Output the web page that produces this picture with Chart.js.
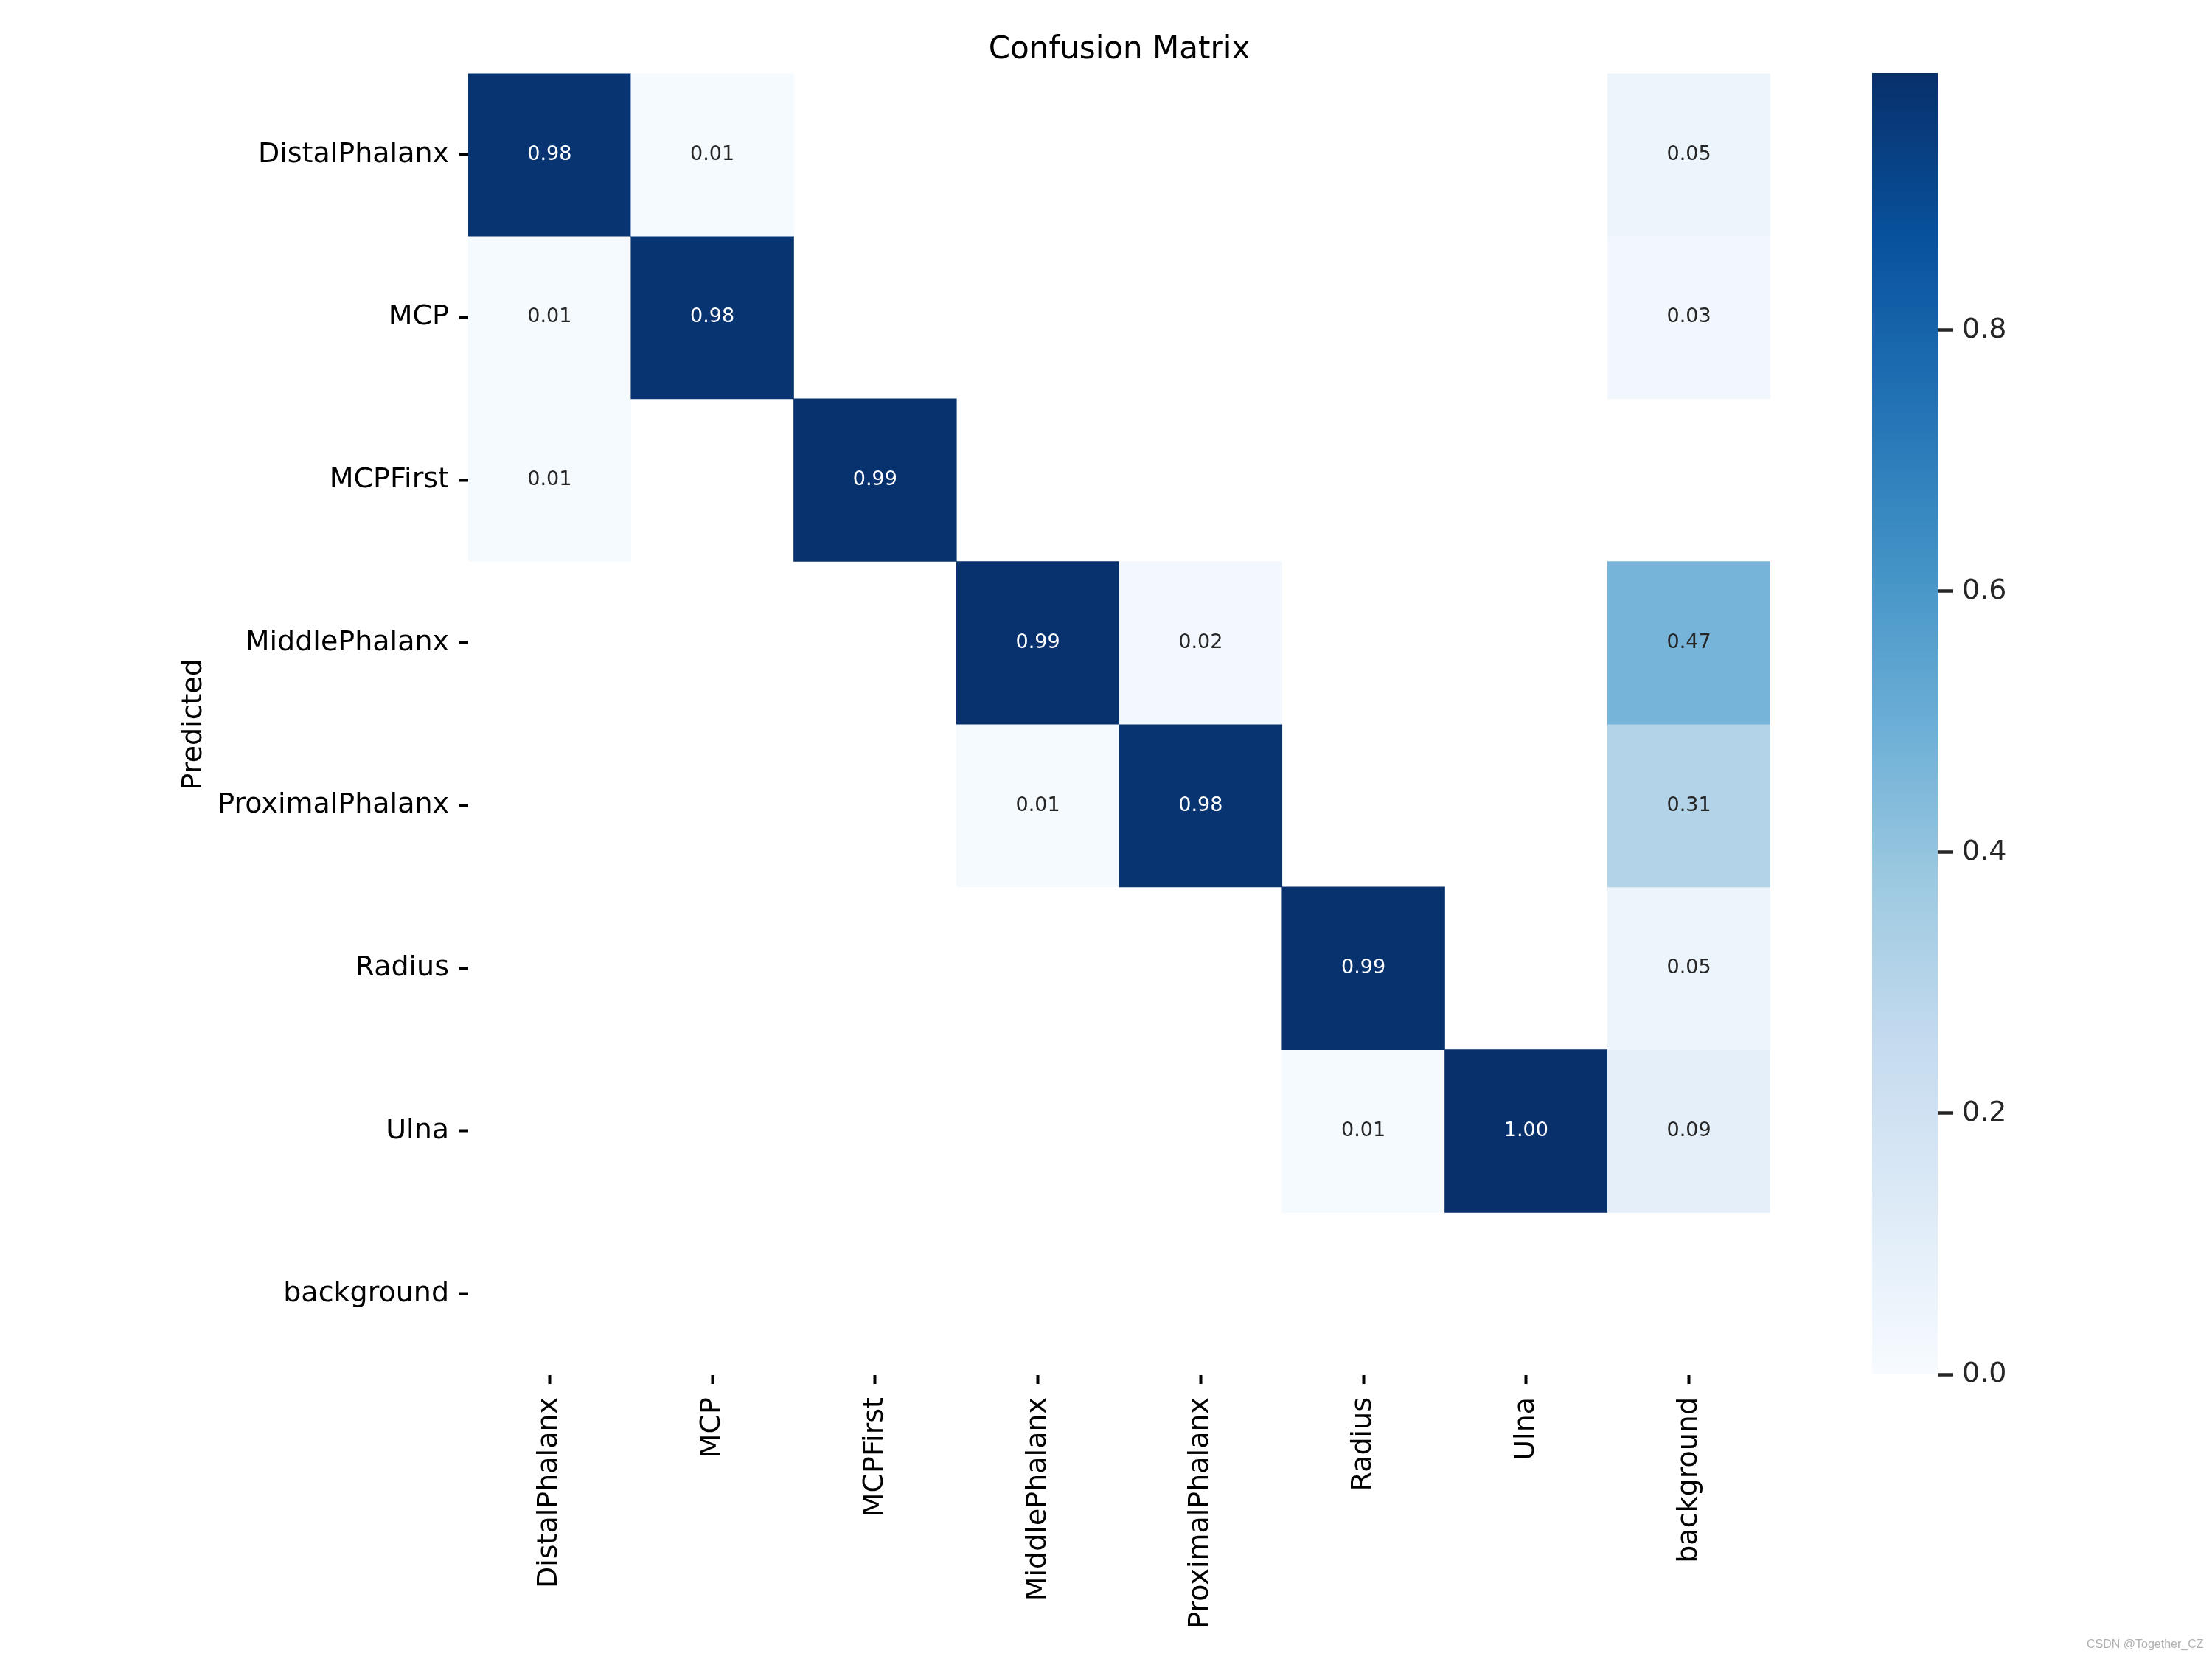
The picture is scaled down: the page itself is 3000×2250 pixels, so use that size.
<!DOCTYPE html>
<html>
<head>
<meta charset="utf-8">
<script src="https://cdn.jsdelivr.net/npm/chart.js@4.4.1/dist/chart.umd.min.js"></script>
<style>
  body { margin: 0; background: #fff; width: 3000px; height: 2250px; position: relative; overflow: hidden; }
  #main_box { position: absolute; left: 0; top: 0; width: 2500px; height: 2250px; }
  #cbar_box { position: absolute; left: 2500px; top: 0; width: 500px; height: 2250px; }
  #mark { position: absolute; left: 2830px; top: 2221px; font: 16px "Liberation Sans", sans-serif; color: #b0b0b0; white-space: nowrap; }
</style>
</head>
<body>
<div id="main_box"><canvas id="main_chart"></canvas></div>
<div id="cbar_box"><canvas id="cbar_chart"></canvas></div>
<div id="mark">CSDN @Together_CZ</div>
<script>
// confusion matrix: rows = predicted, cols = true
const TRUE_LABELS = [ 'DistalPhalanx', 'MCP', 'MCPFirst', 'MiddlePhalanx', 'ProximalPhalanx', 'Radius', 'Ulna', 'background' ];
const PRED_LABELS = [ 'DistalPhalanx', 'MCP', 'MCPFirst', 'MiddlePhalanx', 'ProximalPhalanx', 'Radius', 'Ulna', 'background' ];

const ROW_DISTAL   = [ 0.98, 0.01, 0,    0,    0,    0,    0,    0.05 ];
const ROW_MCP      = [ 0.01, 0.98, 0,    0,    0,    0,    0,    0.03 ];
const ROW_MCPFIRST = [ 0.01, 0,    0.99, 0,    0,    0,    0,    0    ];
const ROW_MIDDLE   = [ 0,    0,    0,    0.99, 0.02, 0,    0,    0.47 ];
const ROW_PROXIMAL = [ 0,    0,    0,    0.01, 0.98, 0,    0,    0.31 ];
const ROW_RADIUS   = [ 0,    0,    0,    0,    0,    0.99, 0,    0.05 ];
const ROW_ULNA     = [ 0,    0,    0,    0,    0,    0.01, 1.00, 0.09 ];
const ROW_BACKGR   = [ 0,    0,    0,    0,    0,    0,    0,    0    ];
const MATRIX = [ ROW_DISTAL, ROW_MCP, ROW_MCPFIRST, ROW_MIDDLE, ROW_PROXIMAL, ROW_RADIUS, ROW_ULNA, ROW_BACKGR ];

const CBAR_TICKS = [ 0, 0.2, 0.4, 0.6, 0.8 ];
const VMAX = 0.997;

// matplotlib Blues
const BLUES = [
  [ 247, 251, 255 ], [ 222, 235, 247 ], [ 198, 219, 239 ], [ 158, 202, 225 ], [ 107, 174, 214 ],
  [ 66, 146, 198 ], [ 33, 113, 181 ], [ 8, 81, 156 ], [ 8, 48, 107 ]
];
const BLUES_FALLBACK = '#6baed6';

function blues( t ) {
  t = Math.min( 1, Math.max( 0, t ) );
  var p = t * ( BLUES.length - 1 );
  var i = Math.min( Math.floor( p ), BLUES.length - 2 );
  var f = p - i;
  var c = [ 0, 1, 2 ].map( k => Math.round( BLUES[ i ][ k ] + ( BLUES[ i + 1 ][ k ] - BLUES[ i ][ k ] ) * f ) );
  return 'rgb(' + c.join( ',' ) + ')';
}

const FONT = 'DejaVu Sans';

const annot_plugin = {
  id: 'annot',
  afterDatasetsDraw( chart ) {
    var ctx = chart.ctx;
    var xs = chart.scales.x, ys = chart.scales.y;
    ctx.save();
    ctx.font = '27px "' + FONT + '"';
    ctx.textAlign = 'center';
    ctx.textBaseline = 'middle';
    MATRIX.forEach( ( row, r ) => {
      row.forEach( ( v, c ) => {
        if ( v <= 0 ) return;
        ctx.fillStyle = v > 0.6 ? '#ffffff' : '#262626';
        ctx.fillText( v.toFixed( 2 ), xs.getPixelForValue( c ), ys.getPixelForValue( r ) );
      } );
    } );
    ctx.restore();
  }
};

new Chart( document.getElementById( 'main_chart' ), {
  type: 'bar',
  data: {
    labels: TRUE_LABELS,
    datasets: PRED_LABELS.map( ( name, r ) => ( {
      label: name,
      data: MATRIX[ r ].map( v => v > 0 ? [ r - 0.5, r + 0.5 ] : null ),
      backgroundColor: MATRIX[ r ].map( v => blues( v / VMAX ) ),
      borderWidth: 0,
      grouped: false,
      barPercentage: 1,
      categoryPercentage: 1
    } ) )
  },
  options: {
    responsive: true,
    maintainAspectRatio: false,
    devicePixelRatio: 1,
    animation: false,
    layout: { padding: { left: 240, right: 99, top: 0, bottom: 0 } },
    plugins: {
      legend: { display: false },
      tooltip: { enabled: false },
      title: {
        display: true,
        text: 'Confusion Matrix',
        fullSize: false,
        color: '#000',
        font: { family: FONT, size: 42, weight: 'normal' },
        padding: { top: 43, bottom: 6 }
      }
    },
    scales: {
      x: {
        type: 'category',
        grid: { display: true, drawOnChartArea: false, drawTicks: true, offset: false, tickLength: 12, tickWidth: 4, tickColor: '#000' },
        border: { display: false },
        ticks: { autoSkip: false, minRotation: 90, maxRotation: 90, padding: 18, color: '#000', font: { family: FONT, size: 38 } },
        afterFit: scale => { scale.height = 385; }
      },
      y: {
        type: 'linear',
        min: -0.5,
        max: 7.5,
        reverse: true,
        grid: { display: true, drawOnChartArea: false, drawTicks: true, tickLength: 12, tickWidth: 4, tickColor: '#000' },
        border: { display: false },
        afterBuildTicks: scale => { scale.ticks = PRED_LABELS.map( ( _, i ) => ( { value: i } ) ); },
        ticks: { padding: 14, color: '#000', font: { family: FONT, size: 38 }, callback: v => PRED_LABELS[ v ] },
        title: { display: true, text: 'Predicted', color: '#000', padding: 0, font: { family: FONT, size: 38 } },
        afterFit: scale => { scale.width = 395; }
      }
    }
  },
  plugins: [ annot_plugin ]
} );

// colorbar
new Chart( document.getElementById( 'cbar_chart' ), {
  type: 'bar',
  data: {
    labels: [ 'cbar' ],
    datasets: [ {
      data: [ [ 0, VMAX ] ],
      borderWidth: 0,
      barPercentage: 1,
      categoryPercentage: 1,
      backgroundColor: context => {
        var chart = context.chart;
        var ys = chart.scales.y;
        if ( !chart.chartArea || !ys ) return BLUES_FALLBACK;
        var g = chart.ctx.createLinearGradient( 0, ys.getPixelForValue( 0 ), 0, ys.getPixelForValue( VMAX ) );
        BLUES.forEach( ( c, i ) => g.addColorStop( i / ( BLUES.length - 1 ), 'rgb(' + c.join( ',' ) + ')' ) );
        return g;
      }
    } ]
  },
  options: {
    responsive: true,
    maintainAspectRatio: false,
    devicePixelRatio: 1,
    animation: false,
    layout: { padding: { left: 39, right: 0, top: 99, bottom: 386 } },
    plugins: { legend: { display: false }, tooltip: { enabled: false } },
    scales: {
      x: { display: false },
      y: {
        position: 'right',
        min: 0,
        max: VMAX,
        grid: { display: true, drawOnChartArea: false, drawTicks: true, tickLength: 21, tickWidth: 4.5, tickColor: '#262626' },
        border: { display: false },
        afterBuildTicks: scale => { scale.ticks = CBAR_TICKS.map( v => ( { value: v } ) ); },
        ticks: { padding: 12, color: '#262626', font: { family: FONT, size: 38 }, callback: v => v.toFixed( 1 ) },
        afterFit: scale => { scale.width = 372; }
      }
    }
  }
} );
</script>
</body>
</html>
